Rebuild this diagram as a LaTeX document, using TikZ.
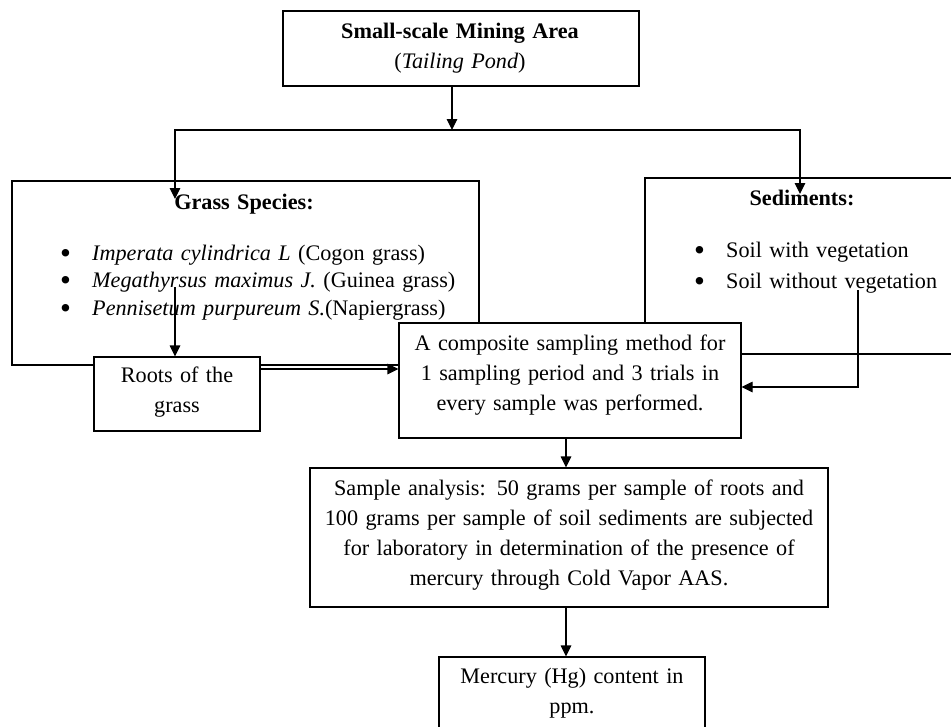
\documentclass[tikz,border=0pt]{standalone}
\usepackage{fontspec}
\setmainfont{Liberation Serif}
\usepackage{graphicx}
\usepackage{tikz}
\usetikzlibrary{arrows.meta}
\usetikzlibrary{fit}
\usetikzlibrary{calc}
\tikzset{
panel/.style = {draw, line width=1.1pt, fill=white, inner sep=0pt},
txt/.style = {inner sep=0pt, anchor=base, align=center,
              font=\fontsize{22.2}{#1}\selectfont},
txt/.default = 30, % baseline skip in pt (= px)
arr/.style = {line width=1.1pt, -{Triangle[length=11pt, width=10.5pt]}},
arrs/.style = {line width=1.1pt, {Triangle[length=11pt, width=10.5pt]}-{Triangle[length=11pt, width=10.5pt]}}
}
\newcommand{\panel}[3]{\node[panel, fit={(#2) (#3)}] (#1) {};}
\newcommand{\boxtext}[4]{\node[txt, text width=#3] (#1) at (#2) {#4};}
\newcommand{\bul}{\makebox[32pt][l]{\raisebox{-3pt}[0pt][0pt]{\scalebox{1.4}{\textbullet}}}}

\begin{document}
\begin{tikzpicture}[x=1pt, y=-1pt]
    \clip (0,0) rectangle (951,726);

    \panel{mine}{283,11}{639,86};
    \boxtext{mine-t}{460,38}{340pt}{\textbf{Small-scale Mining Area}\\(\textit{Tailing Pond})};

    \panel{grass}{12,181}{479,365};
    \boxtext{grass-t}{244,209}{300pt}{\textbf{Grass Species:}};
    \node[txt=27.5, anchor=base west, align=left, text width=420pt] (grass-l) at (60,260)
        {\bul\textit{Imperata cylindrica L} (Cogon grass)\\
         \bul\textit{Megathyrsus maximus J.} (Guinea grass)\\
         \bul\textit{Pennisetum purpureum S.}(Napiergrass)};

    \panel{sed}{645,178}{962,354};
    \boxtext{sed-t}{802,205}{280pt}{\textbf{Sediments:}};
    \node[txt=31, anchor=base west, align=left, text width=260pt] (sed-l) at (694,257)
        {\bul Soil with vegetation\\
         \bul Soil without vegetation};

    \panel{roots}{94,357}{260,431};
    \boxtext{roots-t}{177,382}{160pt}{Roots of the\\grass};

    \panel{comp}{399,323}{741,438};
    \boxtext{comp-t}{570,350}{336pt}{A composite sampling method for\\1 sampling period and 3 trials in\\every sample was performed.};

    \panel{sample}{310,468}{828,607};
    \boxtext{sample-t}{569,495}{510pt}{Sample analysis: 50 grams per sample of roots and\\100 grams per sample of soil sediments are subjected\\for laboratory in determination of the presence of\\mercury through Cold Vapor AAS.};

    \panel{hg}{439,657}{705,740};
    \boxtext{hg-t}{572,683}{260pt}{Mercury (Hg) content in\\ppm.};

    \coordinate (hub) at (452,130);
    \coordinate (hub-l) at (175,130);
    \coordinate (hub-r) at (800,130);
    \coordinate (grass-in) at (175,199);
    \coordinate (sed-in) at (800,194);
    \coordinate (grass-out) at (175,287);
    \coordinate (sed-out) at (858,290);
    \coordinate (roots-lvl) at (0,369);
    \coordinate (sed-lvl) at (0,387);
    \coordinate (mid) at (566,0);

    \draw[arr] (mine.south -| hub) -- (hub);
    \draw[arrs] (grass-in) -- (hub-l) -- (hub-r) -- (sed-in);
    \draw[arr] (grass-out) -- (grass-out |- roots.north);
    \draw[arr] (roots.east |- roots-lvl) -- (comp.west |- roots-lvl);
    \draw[arr] (sed-out) |- (comp.east |- sed-lvl);
    \draw[arr] (comp.south -| mid) -- (sample.north -| mid);
    \draw[arr] (sample.south -| mid) -- (hg.north -| mid);
\end{tikzpicture}
\end{document}
